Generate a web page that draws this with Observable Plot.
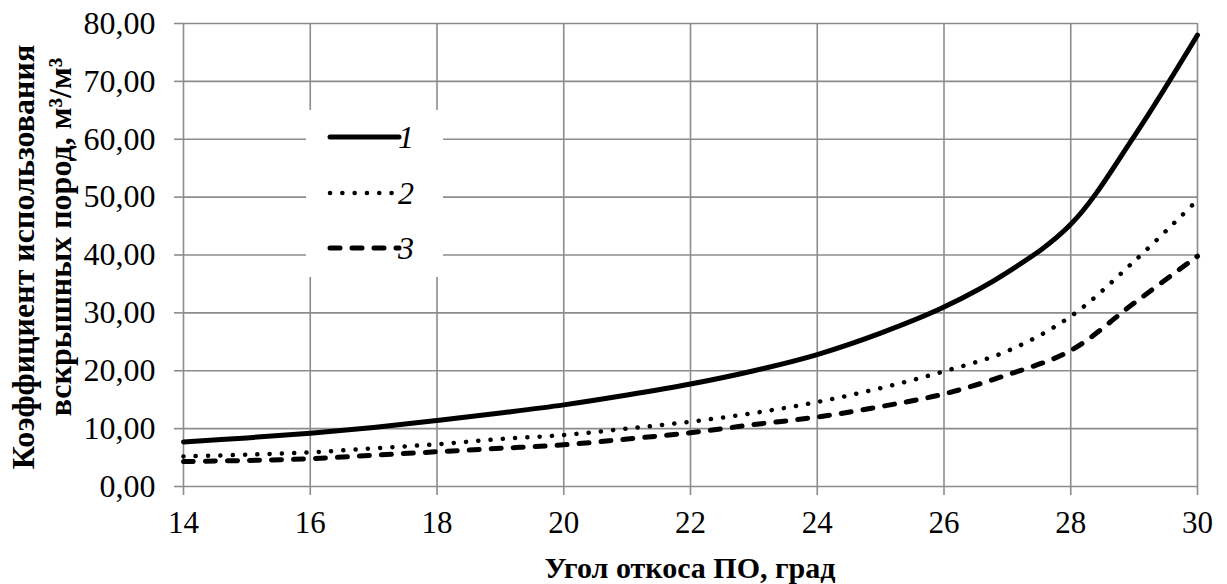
<!DOCTYPE html>
<html>
<head>
<meta charset="utf-8">
<script src="https://cdn.jsdelivr.net/npm/d3@7"></script>
<script src="https://cdn.jsdelivr.net/npm/@observablehq/plot@0.6"></script>
<style>
  html, body { margin: 0; padding: 0; background: #fff; }
  #chart svg { display: block; }
  #chart svg text { font-family: "Liberation Serif", "Times New Roman", serif; }
</style>
</head>
<body>
<div id="chart"></div>
<script>
// Data
const angles = [14, 15, 16, 17, 18, 19, 20, 21, 22, 23, 24, 25, 26, 27, 28, 29, 30];
const series1 = [7.7, 8.4, 9.2, 10.2, 11.4, 12.7, 14.1, 15.8, 17.7, 20.0, 22.8, 26.5, 31.0, 37.0, 45.3, 60.5, 78.0];
const series2 = [5.2, 5.5, 5.9, 6.6, 7.3, 8.2, 8.9, 10.0, 11.2, 12.7, 14.6, 17.0, 19.9, 23.4, 29.4, 38.9, 49.5];
const series3 = [4.3, 4.5, 4.8, 5.4, 6.0, 6.6, 7.2, 8.2, 9.3, 10.7, 12.0, 13.8, 16.0, 19.3, 23.5, 31.7, 39.8];
const seriesNames = ["1", "2", "3"];
const xTicks = [14, 16, 18, 20, 22, 24, 26, 28, 30];
const yTicks = [0, 10, 20, 30, 40, 50, 60, 70, 80];
const xTitle = "Угол откоса ПО, град";
const yTitleLines = ["Коэффициент использования", "вскрышных пород, м³/м³"];

const styles = [
  {strokeWidth: 5},
  {strokeWidth: 4.5, strokeDasharray: "0.1 12.2"},
  {strokeWidth: 5, strokeDasharray: "10 12"}
];

const allSeries = [series1, series2, series3];
const rows = allSeries.map(s => angles.map((a, i) => ({angle: a, value: s[i]})));

const W = 1227, H = 584;
const mL = 183, mR = 30, mT = 23, mB = 98;
const grid = "#8c8c8c";
const font = "Liberation Serif";
const fmt = d => d.toFixed(2).replace(".", ",");

const plot = Plot.plot({
  width: W,
  height: H,
  marginLeft: mL,
  marginRight: mR,
  marginTop: mT,
  marginBottom: mB,
  style: {fontFamily: font, fontSize: "32px", color: "black", background: "white", overflow: "visible"},
  x: {domain: [14, 30]},
  y: {domain: [0, 80]},
  marks: [
    Plot.gridX(xTicks, {stroke: grid, strokeOpacity: 1, strokeWidth: 1.6}),
    Plot.gridY(yTicks, {stroke: grid, strokeOpacity: 1, strokeWidth: 1.6}),
    Plot.axisX({ticks: xTicks, tickSize: 9, tickPadding: 15, stroke: grid, strokeWidth: 1.6, fill: "black", fontSize: 31, fontFamily: font, label: null, tickFormat: d => String(d)}),
    Plot.axisY({ticks: yTicks, tickSize: 9, tickPadding: 19, stroke: grid, strokeWidth: 1.6, fill: "black", fontSize: 32, fontFamily: font, label: null, tickFormat: fmt}),
    ...rows.map((r, i) => Plot.line(r, {
      x: "angle", y: "value", curve: "catmull-rom",
      stroke: "black", strokeLinecap: "round", strokeLinejoin: "round",
      ...styles[i]
    }))
  ]
});

document.getElementById("chart").appendChild(plot);

const svg = d3.select(plot);
svg.selectAll("text").attr("font-family", font);

// Axis titles
svg.append("text")
  .attr("x", (mL + (W - mR)) / 2)
  .attr("y", 578)
  .attr("text-anchor", "middle")
  .attr("font-family", font)
  .attr("font-weight", "bold")
  .attr("font-size", 30)
  .attr("fill", "black")
  .text(xTitle);

const yt = svg.append("g").attr("font-family", font).attr("font-weight", "bold").attr("font-size", 32).attr("fill", "black");
yt.append("text").attr("transform", "translate(34,257) rotate(-90)").attr("text-anchor", "middle").text(yTitleLines[0]);
yt.append("text").attr("transform", "translate(71,237) rotate(-90)").attr("text-anchor", "middle").text(yTitleLines[1]);

// Legend
const lg = svg.append("g");
lg.append("rect").attr("x", 306).attr("y", 110).attr("width", 137).attr("height", 167).attr("fill", "white");
const legY = [137, 193, 248];
seriesNames.forEach((name, i) => {
  const l = lg.append("line")
    .attr("x1", 330).attr("x2", 399)
    .attr("y1", legY[i]).attr("y2", legY[i])
    .attr("stroke", "black").attr("stroke-linecap", "round")
    .attr("stroke-width", styles[i].strokeWidth);
  if (styles[i].strokeDasharray) l.attr("stroke-dasharray", styles[i].strokeDasharray);
  lg.append("text")
    .attr("x", 406).attr("y", legY[i] + 11)
    .attr("font-family", font).attr("font-style", "italic").attr("font-size", 32)
    .attr("fill", "black")
    .text(name);
});
</script>
</body>
</html>
